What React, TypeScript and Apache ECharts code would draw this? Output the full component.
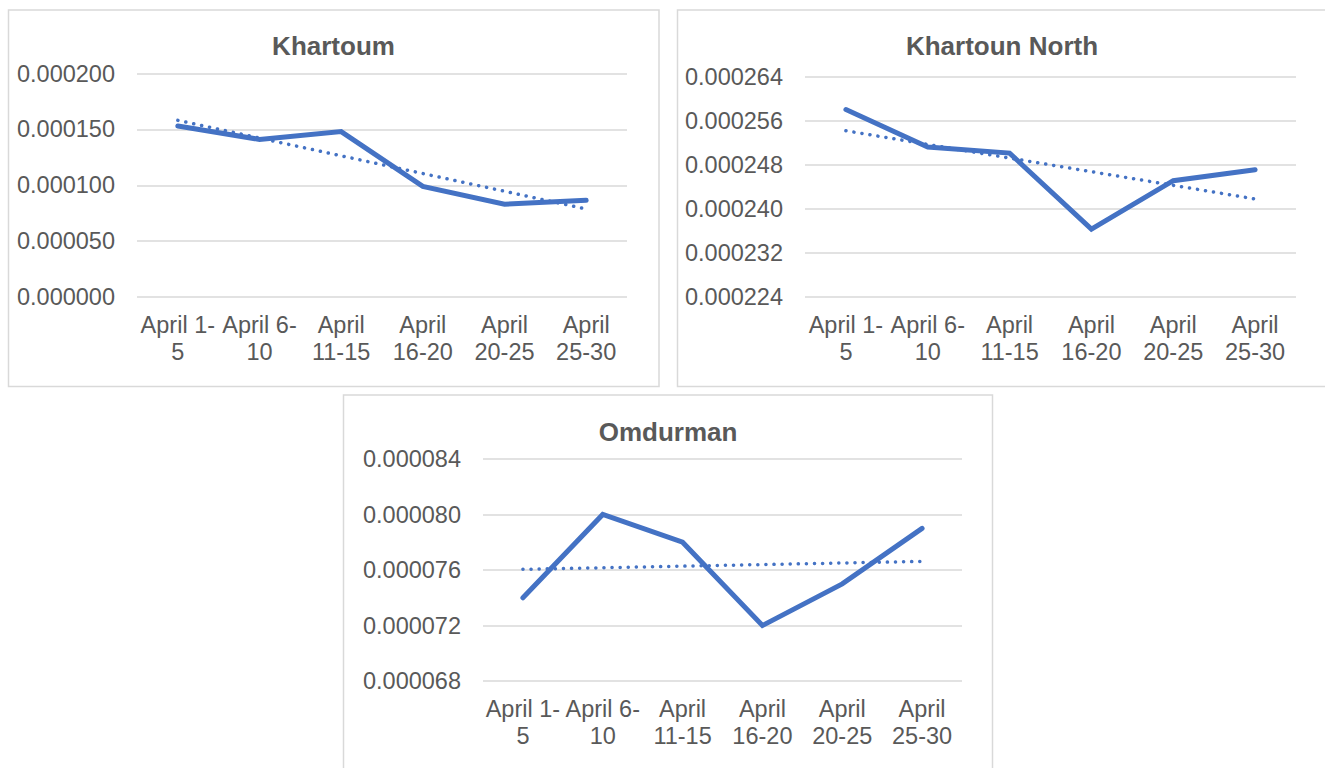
import React, { useEffect, useRef } from "react";
import * as echarts from "echarts";

const categories = ["April 1-\n5", "April 6-\n10", "April\n11-15", "April\n16-20", "April\n20-25", "April\n25-30"];
const khartoum = [0.000153, 0.000141, 0.000148, 0.000099, 0.000083, 0.0000865];
const khartoumNorth = [0.000258, 0.0002512, 0.0002501, 0.0002363, 0.0002451, 0.0002471];
const omdurman = [0.000074, 0.00008, 0.000078, 0.000072, 0.000075, 0.000079];

const titles = ["Khartoum", "Khartoun North", "Omdurman"];
const yMins = [0, 0.000224, 0.000068];
const yMaxs = [0.0002, 0.000264, 0.000084];
const yIntervals = [0.00005, 0.000008, 0.000004];

// linear (least squares) trendline, like Excel's
function linearTrend(values: number[]): number[] {
  const n = values.length;
  const xs = values.map((_, i) => i + 1);
  const mx = xs.reduce((a, b) => a + b, 0) / n;
  const my = values.reduce((a, b) => a + b, 0) / n;
  let num = 0;
  let den = 0;
  for (let i = 0; i < n; i++) {
    num += (xs[i] - mx) * (values[i] - my);
    den += (xs[i] - mx) * (xs[i] - mx);
  }
  const slope = num / den;
  return xs.map((x) => my + slope * (x - mx));
}

const FONT = "'Liberation Sans', Arial, sans-serif";
const TEXT = "#595959";
const BLUE = "#4472C4";
const GRID = "#d9d9d9";

export default function App() {
  const ref = useRef<HTMLDivElement>(null);
  useEffect(() => {
    if (!ref.current) return;
    const chart = echarts.init(ref.current, null, { renderer: "svg" });
    const seriesData = [khartoum, khartoumNorth, omdurman];
    const grids = [
      { left: 137, top: 73.5, width: 490, height: 223.5 },
      { left: 805, top: 76.5, width: 491, height: 220.5 },
      { left: 483, top: 459, width: 479, height: 222 },
    ];
    const titlePos = [
      [333.5, 46],
      [1002, 46],
      [668, 432],
    ];
    const option: any = {
      animation: false,
      backgroundColor: "#ffffff",
      grid: grids,
      xAxis: grids.map((_, i) => ({
        type: "category",
        gridIndex: i,
        data: categories,
        boundaryGap: true,
        axisLine: { show: false },
        axisTick: { show: false },
        axisLabel: {
          color: TEXT,
          fontFamily: FONT,
          fontSize: 23.5,
          lineHeight: 27,
          margin: 14,
          interval: 0,
        },
      })),
      yAxis: grids.map((_, i) => ({
        type: "value",
        gridIndex: i,
        min: yMins[i],
        max: yMaxs[i],
        interval: yIntervals[i],
        axisLine: { show: false },
        axisTick: { show: false },
        splitLine: { lineStyle: { color: GRID, width: 1.5 } },
        axisLabel: {
          color: TEXT,
          fontFamily: FONT,
          fontSize: 23.5,
          margin: 22,
          formatter: (v: number) => v.toFixed(6),
        },
      })),
      series: seriesData.flatMap((d, i) => [
        {
          type: "line",
          name: titles[i],
          xAxisIndex: i,
          yAxisIndex: i,
          data: d,
          showSymbol: false,
          symbol: "none",
          lineStyle: { color: BLUE, width: 5, cap: "round", join: "miter" },
          z: 3,
        },
        {
          type: "line",
          name: titles[i] + " trend",
          xAxisIndex: i,
          yAxisIndex: i,
          data: linearTrend(d),
          showSymbol: false,
          symbol: "none",
          lineStyle: { color: BLUE, width: 3.5, type: [0.1, 8], cap: "round" },
          z: 2,
        },
      ]),
      graphic: [
        {
          type: "rect",
          shape: { x: 8.5, y: 10, width: 650.5, height: 376.5 },
          style: { fill: "none", stroke: GRID, lineWidth: 1.5 },
          silent: true,
        },
        {
          type: "rect",
          shape: { x: 677.5, y: 10, width: 700, height: 376.5 },
          style: { fill: "none", stroke: GRID, lineWidth: 1.5 },
          silent: true,
        },
        {
          type: "rect",
          shape: { x: 343.5, y: 395, width: 649, height: 420 },
          style: { fill: "none", stroke: GRID, lineWidth: 1.5 },
          silent: true,
        },
        ...titles.map((t, i) => ({
          type: "text",
          x: titlePos[i][0],
          y: titlePos[i][1],
          style: {
            text: t,
            fill: TEXT,
            font: `bold 26px ${FONT}`,
            align: "center",
            verticalAlign: "middle",
          },
          silent: true,
        })),
      ],
    };
    chart.setOption(option);
    return () => chart.dispose();
  }, []);
  return (
    <div
      ref={ref}
      style={{ position: "absolute", left: 0, top: 0, width: 1325, height: 768, background: "#fff" }}
    />
  );
}
